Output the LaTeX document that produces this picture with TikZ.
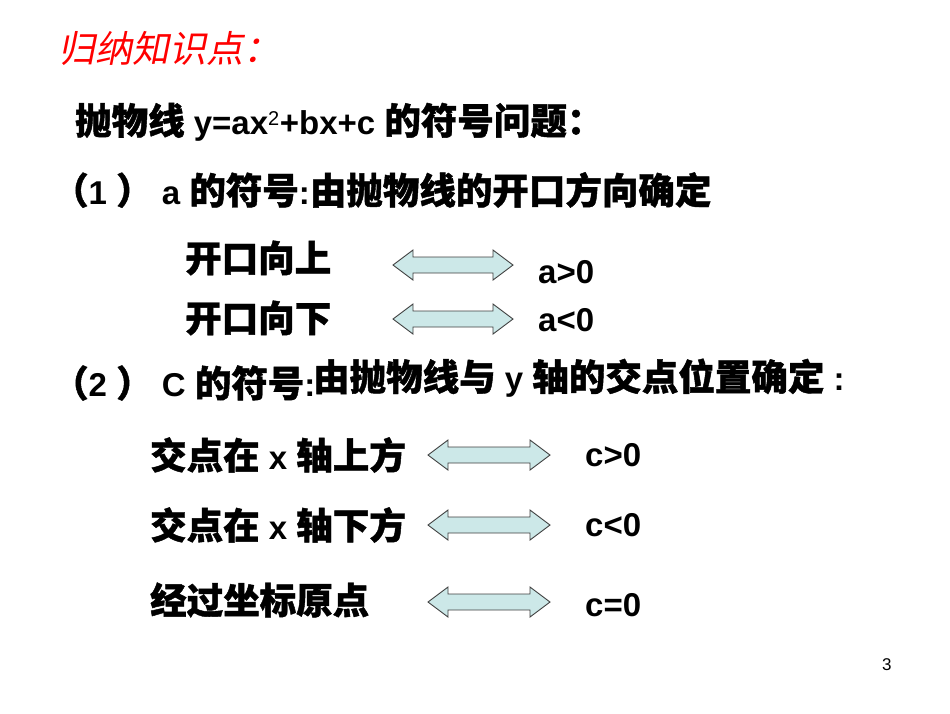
\documentclass[tikz,border=0pt]{standalone}
\usepackage{fontspec}
\setmainfont{Liberation Sans}[BoldFont={Liberation Sans Bold}]
\newfontfamily\cjkf{Noto Sans CJK SC}[FakeBold=1.2]
\newfontfamily\cjkit{Noto Sans CJK SC}[FakeSlant=0.2]
\newcommand\cjk{\cjkf\fontsize{36.5}{40}\selectfont}
\definecolor{arrfill}{RGB}{204,232,232}
\begin{document}
\begin{tikzpicture}[x=1pt,y=-1pt,
  txt/.style={anchor=west,inner sep=0pt,font=\fontsize{33}{36}\selectfont\bfseries},
  arr/.style={draw=black!75,fill=arrfill,line width=0.9pt,line join=miter}]
\useasboundingbox (0,0) rectangle (950,713);
\fill[white] (0,0) rectangle (950,713);
\newcommand\darrow[3]{% center x, center y, length
  \draw[arr] ({#1-#3/2},#2) -- ++(20,-15) -- ++(0,7) -- ({#1+#3/2-20},{#2-8}) -- ++(0,-7) -- ({#1+#3/2},#2) -- ++(-20,15) -- ++(0,-7) -- ({#1-#3/2+20},{#2+8}) -- ++(0,7) -- cycle;}
\node[txt,text=red,font=\cjkit\fontsize{37}{40}\selectfont] (t) at (58,48) {归纳知识点：};
\node[txt] (l1) at (75,122) {{\cjk 抛物线} y=ax\textsuperscript{\fontsize{20}{22}\selectfont\mdseries 2}+bx+c {\cjk 的符号问题：}};
\node[txt] (l2) at (52,190) {{\cjk （}1 {\cjk ）} a {\cjk 的符号}:{\cjk 由抛物线的开口方向确定}};
\node[txt] (u1) at (185,258) {\cjk 开口向上};
\node[txt] (u2) at (185,318) {\cjk 开口向下};
\darrow{453}{265}{120}
\darrow{453}{319}{120}
\node[txt] (r1) at (538,272) {a>0};
\node[txt] (r2) at (538,320) {a<0};
\node[txt] (l3) at (52,383) {{\cjk （}2 {\cjk ）} C {\cjk 的符号}:};
\node[txt] (l3b) at (313,378) {{\cjk 由抛物线与} y {\cjk 轴的交点位置确定} :};
\node[txt] (v1) at (150,455) {{\cjk 交点在} x {\cjk 轴上方}};
\node[txt] (v2) at (150,525) {{\cjk 交点在} x {\cjk 轴下方}};
\node[txt] (v3) at (150,600) {\cjk 经过坐标原点};
\darrow{489}{455}{122}
\darrow{489}{525}{122}
\darrow{489}{602}{122}
\node[txt] (s1) at (585,455) {c>0};
\node[txt] (s2) at (585,525) {c<0};
\node[txt] (s3) at (585,605) {c=0};
\node[anchor=west,inner sep=0pt,font=\fontsize{17}{19}\selectfont] (p) at (882,665) {3};
\end{tikzpicture}
\end{document}
